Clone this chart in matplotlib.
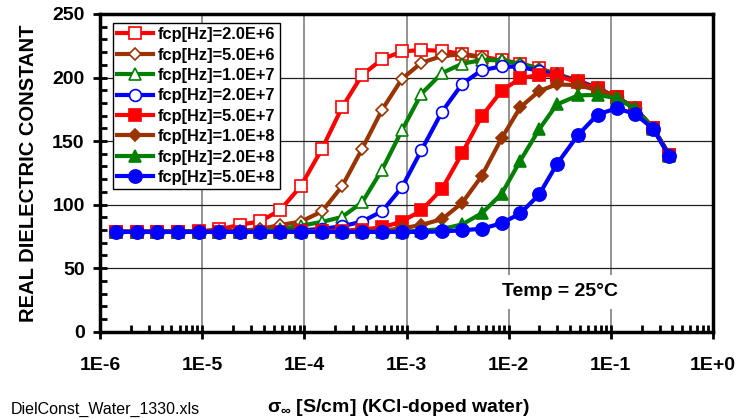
import numpy as np
import matplotlib
matplotlib.use('Agg')
import matplotlib.pyplot as plt
from matplotlib.ticker import FixedLocator, LogLocator, FuncFormatter, MultipleLocator, NullFormatter

plt.rcParams['font.family'] = ['Liberation Sans', 'DejaVu Sans']
plt.rcParams['mathtext.fontset'] = 'custom'
plt.rcParams['mathtext.rm'] = 'Liberation Sans:bold'
plt.rcParams['mathtext.it'] = 'Liberation Sans:bold'
plt.rcParams['mathtext.bf'] = 'Liberation Sans:bold'

# -------------------- Data --------------------
# conductivity of the KCl-doped water samples [S/cm]
sigma = [1.44e-6, 2.31e-6, 3.62e-6, 5.82e-6, 9.35e-6, 1.47e-5, 2.36e-5, 3.71e-5,
         5.82e-5, 9.25e-5, 1.49e-4, 2.34e-4, 3.68e-4, 5.78e-4, 9.04e-4, 1.40e-3,
         2.23e-3, 3.50e-3, 5.43e-3, 8.53e-3, 1.30e-2, 1.99e-2, 2.96e-2, 4.80e-2,
         7.41e-2, 0.114, 0.173, 0.260, 0.373]

# real dielectric constant for each crossover frequency fcp
eps_2e6 = [78.6, 78.6, 78.7, 78.8, 79.0, 80.5, 84.2, 86.8, 95.8, 114.6, 143.9, 176.5, 202.0, 214.5, 220.5,
           221.7, 221.0, 218.6, 216.4, 213.8, 211.0, 207.3, 202.7, 197.5, 191.8, 184.5, 176.0, 160.0, 139.0]
eps_5e6 = [78.6, 78.6, 78.6, 78.6, 78.7, 78.9, 79.4, 80.8, 84.0, 86.6, 94.7, 114.4, 143.9, 174.8, 199.0,
           211.6, 217.0, 218.2, 215.8, 213.2, 210.6, 207.0, 202.5, 197.3, 191.6, 184.4, 176.0, 160.0, 139.0]
eps_1e7 = [78.6, 78.6, 78.6, 78.6, 78.6, 78.6, 78.8, 79.3, 80.6, 83.4, 86.4, 90.3, 101.8, 127.6, 158.6,
           187.3, 203.6, 210.8, 213.8, 213.6, 210.8, 206.8, 202.3, 197.2, 191.5, 184.3, 175.8, 160.0, 138.8]
eps_2e7 = [78.6, 78.6, 78.6, 78.6, 78.6, 78.6, 78.6, 78.8, 79.1, 79.7, 81.0, 82.9, 86.7, 94.8, 113.8,
           142.8, 173.2, 194.9, 205.7, 208.8, 208.3, 205.3, 201.8, 196.8, 191.3, 184.3, 175.8, 160.0, 138.7]
eps_5e7 = [78.6, 78.6, 78.6, 78.6, 78.6, 78.6, 78.6, 78.6, 78.7, 78.9, 79.2, 79.5, 80.4, 82.1, 86.7,
           95.5, 112.5, 140.3, 169.4, 189.6, 199.4, 202.1, 201.4, 196.2, 191.0, 184.7, 175.6, 160.2, 139.4]
eps_1e8 = [78.6, 78.6, 78.6, 78.6, 78.6, 78.6, 78.6, 78.6, 78.6, 78.6, 78.6, 78.6, 78.8, 79.5, 81.3,
           84.0, 88.6, 101.3, 122.3, 152.2, 176.6, 189.4, 194.6, 194.0, 190.0, 184.3, 175.8, 160.0, 139.0]
eps_2e8 = [78.6, 78.6, 78.6, 78.6, 78.6, 78.6, 78.6, 78.6, 78.6, 78.6, 78.6, 78.6, 78.6, 78.6, 78.8,
           79.4, 80.8, 84.4, 93.1, 108.4, 134.6, 159.3, 178.8, 186.0, 186.3, 183.8, 175.5, 159.8, 138.5]
eps_5e8 = [78.5, 78.5, 78.5, 78.5, 78.5, 78.5, 78.5, 78.5, 78.5, 78.5, 78.5, 78.5, 78.5, 78.5, 78.5,
           78.5, 78.9, 79.8, 81.0, 85.3, 93.1, 108.0, 131.8, 155.0, 170.8, 175.9, 171.2, 159.7, 138.2]

labels = ['fcp[Hz]=2.0E+6', 'fcp[Hz]=5.0E+6', 'fcp[Hz]=1.0E+7', 'fcp[Hz]=2.0E+7',
          'fcp[Hz]=5.0E+7', 'fcp[Hz]=1.0E+8', 'fcp[Hz]=2.0E+8', 'fcp[Hz]=5.0E+8']
series = [eps_2e6, eps_5e6, eps_1e7, eps_2e7, eps_5e7, eps_1e8, eps_2e8, eps_5e8]

decades = [1e-6, 1e-5, 1e-4, 1e-3, 1e-2, 1e-1, 1e0]

red, brown, green, blue = '#FF0000', '#993300', '#008000', '#0000FF'
# (color, marker, filled, markersize)
styles = [(red, 's', False, 8.0), (brown, 'D', False, 5.8), (green, '^', False, 8.5), (blue, 'o', False, 8.5),
          (red, 's', True, 8.0), (brown, 'D', True, 5.8), (green, '^', True, 8.5), (blue, 'o', True, 9.5)]

# -------------------- Plot --------------------
fig = plt.figure(figsize=(7.36, 4.18), dpi=100)
ax = fig.add_axes([100 / 736, 1 - 331.7 / 418, 613 / 736, 317.7 / 418])

for y, lab, (c, m, filled, ms) in zip(series, labels, styles):
    ax.plot(sigma, y, color=c, lw=3, marker=m, markersize=ms,
            markerfacecolor=c if filled else 'white', markeredgecolor=c,
            markeredgewidth=1.2, label=lab, zorder=3)

ax.set_xscale('log')
ax.set_xlim(1e-6, 1)
ax.set_ylim(0, 250)

ax.xaxis.set_major_locator(FixedLocator(decades))
ax.xaxis.set_minor_locator(LogLocator(base=10, subs=np.arange(2, 10), numticks=100))
ax.xaxis.set_minor_formatter(NullFormatter())
ax.xaxis.set_major_formatter(FuncFormatter(lambda v, p: '1E%+d' % int(round(np.log10(v)))))
ax.yaxis.set_major_locator(MultipleLocator(50))
ax.yaxis.set_minor_locator(MultipleLocator(10))

ax.grid(which='major', axis='x', color='#808080', lw=1.2, zorder=1)
ax.grid(which='major', axis='y', color='#202020', lw=0.9, zorder=1)

for sp in ax.spines.values():
    sp.set_linewidth(2.5)

ax.tick_params(which='major', direction='inout', length=10, width=2)
ax.tick_params(which='minor', direction='in', length=5, width=2)
ax.tick_params(axis='x', which='major', labelsize=14, pad=13)
ax.tick_params(axis='y', which='major', labelsize=14, pad=6)
for t in ax.get_xticklabels() + ax.get_yticklabels():
    t.set_fontweight('bold')

ax.set_ylabel('REAL DIELECTRIC CONSTANT', fontsize=14.5, fontweight='bold', labelpad=10)

leg = ax.legend(loc='upper left', bbox_to_anchor=(13 / 613, 1 - 9 / 317.7), borderaxespad=0,
                prop={'size': 11.8, 'weight': 'bold'}, frameon=True, fancybox=False,
                edgecolor='black', framealpha=1, borderpad=0.25, labelspacing=0.33,
                handlelength=2.2, handletextpad=0.3)
leg.get_frame().set_linewidth(1.0)

ax.text(0.032, 31.5, 'Temp = 25°C', fontsize=14, fontweight='bold', ha='center', va='center',
        bbox=dict(facecolor='white', edgecolor='none', pad=6), zorder=2)

fig.text(398 / 736, 1 - 408 / 418, r'$\sigma_{\infty}$ [S/cm] (KCl-doped water)',
         fontsize=14, fontweight='bold', ha='center', va='center')
fig.text(11 / 736, 1 - 409 / 418, 'DielConst_Water_1330.xls', fontsize=11.5, ha='left', va='center')

fig.savefig('out.png', dpi=100)
